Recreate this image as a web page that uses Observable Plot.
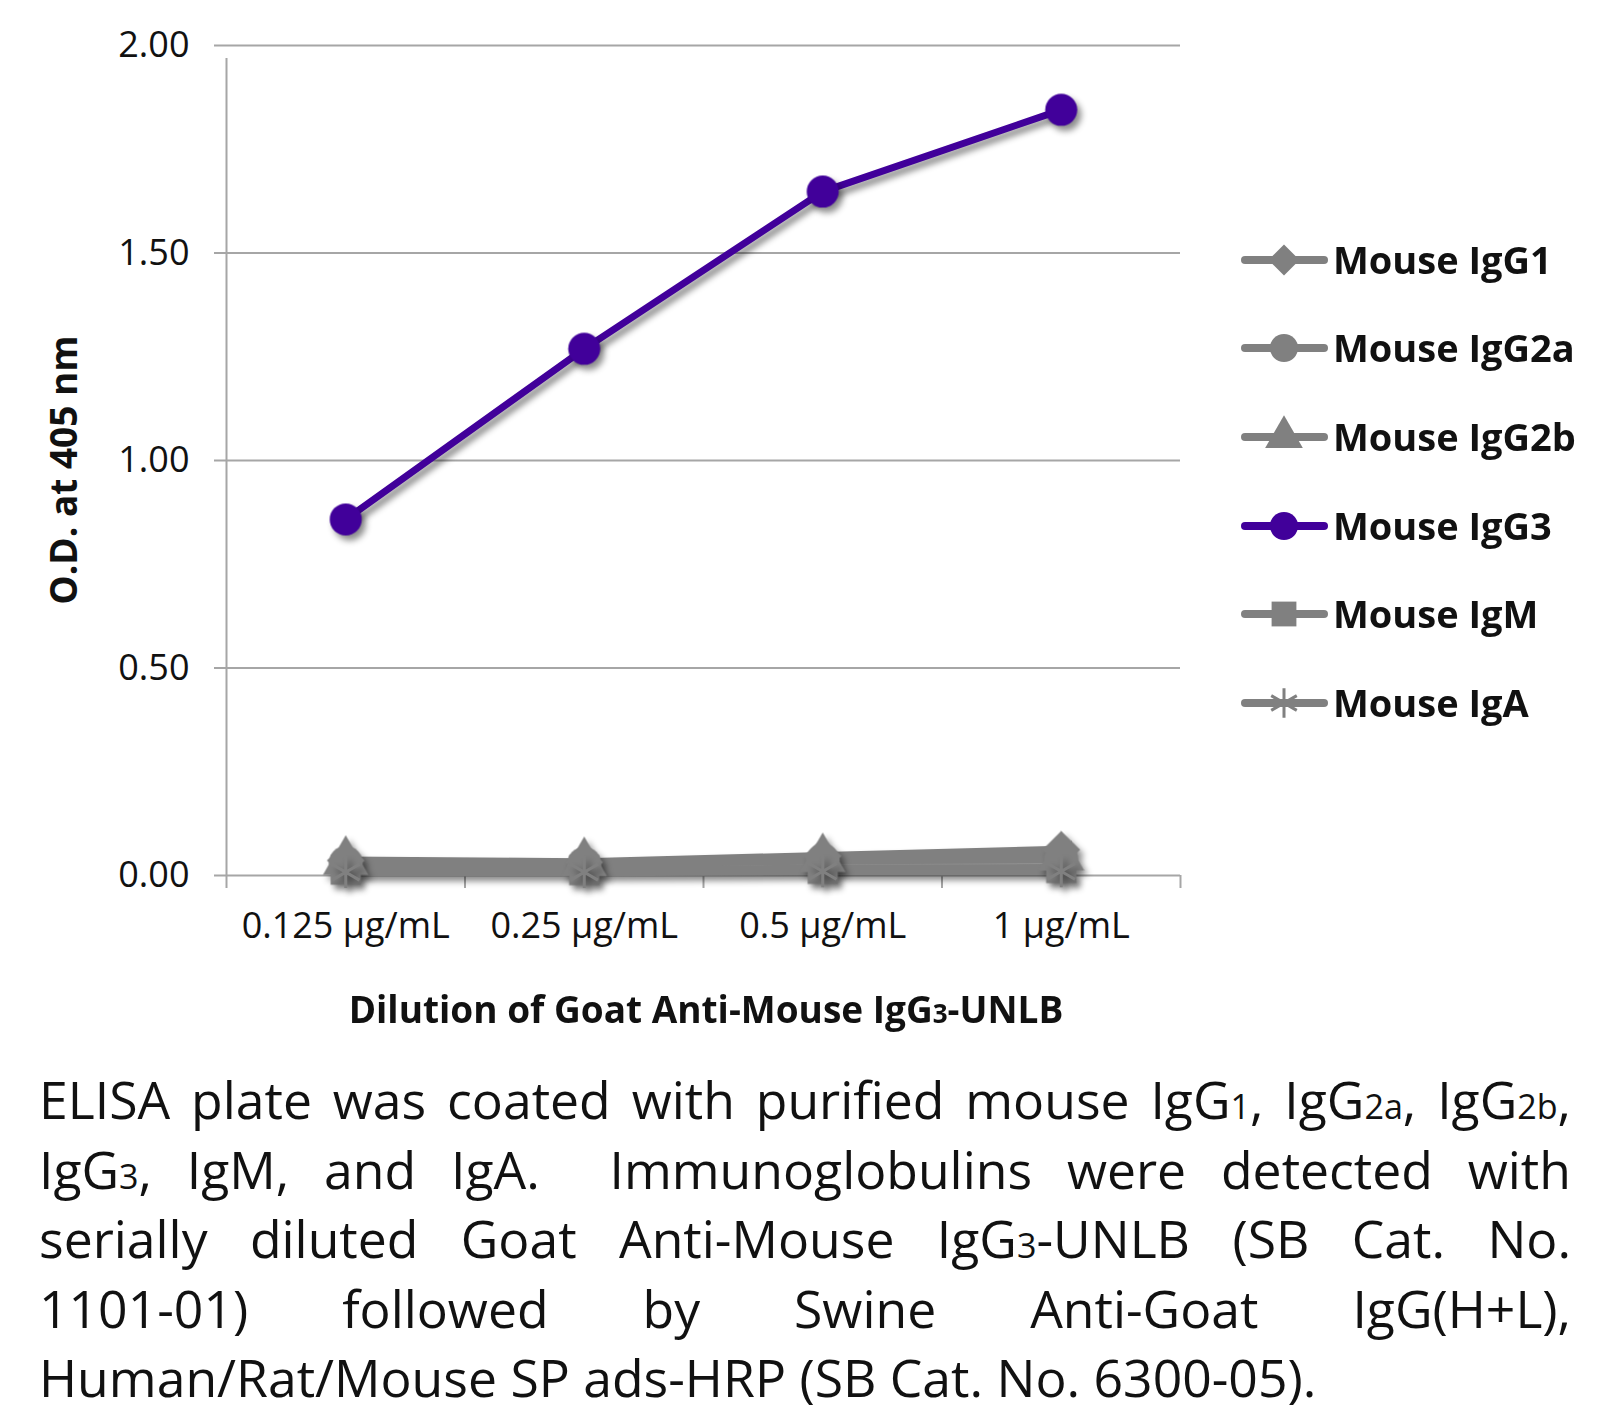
<!DOCTYPE html>
<html>
<head>
<meta charset="utf-8">
<script src="https://cdn.jsdelivr.net/npm/d3@7"></script>
<script src="https://cdn.jsdelivr.net/npm/@observablehq/plot@0.6"></script>
<style>
  html, body { margin: 0; padding: 0; background: #fff; }
  #caption { font-family: "Open Sans", sans-serif; font-size: 51.7px; line-height: 69.5px; color: #111;
             width: 1532px; margin: 20px 0 0 39px; }
  #caption .j { text-align: justify; text-align-last: justify; white-space: nowrap; }
  #caption .l { text-align: left; white-space: nowrap; }
  #caption .s { font-size: 0.66em; line-height: 1; }
</style>
</head>
<body>
<div id="chart"></div>
<div id="caption">
  <div class="j">ELISA plate was coated with purified mouse IgG<span class="s">1</span>, IgG<span class="s">2a</span>, IgG<span class="s">2b</span>,</div>
  <div class="j">IgG<span class="s">3</span>, IgM, and IgA.&nbsp; Immunoglobulins were detected with</div>
  <div class="j">serially diluted Goat Anti-Mouse IgG<span class="s">3</span>-UNLB (SB Cat. No.</div>
  <div class="j">1101-01) followed by Swine Anti-Goat IgG(H+L),</div>
  <div class="l">Human/Rat/Mouse SP ads-HRP (SB Cat. No. 6300-05).</div>
</div>
<script>
// ---- data ----
const categories = ["0.125 µg/mL", "0.25 µg/mL", "0.5 µg/mL", "1 µg/mL"];
const seriesNames = ["Mouse IgG1", "Mouse IgG2a", "Mouse IgG2b", "Mouse IgG3", "Mouse IgM", "Mouse IgA"];
const igg1  = [0.036, 0.032, 0.047, 0.062];
const igg2a = [0.030, 0.028, 0.036, 0.040];
const igg2b = [0.033, 0.030, 0.040, 0.044];
const igg3  = [0.858, 1.269, 1.648, 1.845];
const igm   = [0.014, 0.013, 0.016, 0.018];
const iga   = [0.008, 0.008, 0.010, 0.010];
const yTicks = [0, 0.5, 1.0, 1.5, 2.0];
const seriesColors = ["#808080", "#808080", "#808080", "#41009a", "#808080", "#808080"];
const seriesSymbols = ["diamond2", "circle", "triangle", "circle", "square", "asterisk"];

const valuesBySeries = [igg1, igg2a, igg2b, igg3, igm, iga];
const rows = [];
seriesNames.forEach((s, si) => {
  valuesBySeries[si].forEach((v, ci) => rows.push({series: s, category: categories[ci], x: ci + 0.5, value: v}));
});
const grayRows = rows.filter(d => d.series !== "Mouse IgG3");
const g3Rows = rows.filter(d => d.series === "Mouse IgG3");
const boundaries = d3.range(categories.length + 1);
const centers = categories.map((c, i) => i + 0.5);

const gridColor = "#a6a6a6";
const chart = Plot.plot({
  width: 1621,
  height: 1045,
  marginTop: 45,
  marginBottom: 170,
  marginLeft: 226,
  marginRight: 441,
  style: {fontFamily: "'Open Sans', sans-serif", fontSize: "36px", color: "#111", background: "white", overflow: "visible"},
  x: {domain: [0, categories.length]},
  y: {domain: [0, 2]},
  color: {domain: seriesNames, range: seriesColors},
  symbol: {domain: seriesNames, range: seriesSymbols},
  marks: [
    Plot.ruleY(yTicks, {stroke: gridColor, strokeWidth: 2, insetLeft: -12}),
    Plot.ruleX([0], {y1: 0, y2: 2, stroke: gridColor, strokeWidth: 2, insetBottom: -13}),
    Plot.axisX(boundaries, {tickSize: 13, tickFormat: () => "", stroke: gridColor, strokeWidth: 2, label: null}),
    Plot.axisX(centers, {tickSize: 0, tickPadding: 37, tickFormat: d => categories[Math.floor(d)], fontSize: 36, fill: "#111", label: null}),
    Plot.axisY(yTicks, {tickSize: 0, tickPadding: 37, tickFormat: d3.format(".2f"), fontSize: 36, fill: "#111", label: null}),
    Plot.line(grayRows, {x: "x", y: "value", z: "series", stroke: "series", strokeWidth: 8, strokeLinejoin: "round"}),
    Plot.dot(grayRows.filter(d => d.series !== "Mouse IgA"), {x: "x", y: "value", symbol: "series", fill: "series", r: 17}),
    Plot.dot(grayRows.filter(d => d.series === "Mouse IgA"), {x: "x", y: "value", symbol: "series", stroke: "series", strokeWidth: 3, r: 15}),
    Plot.line(g3Rows, {x: "x", y: "value", stroke: "series", strokeWidth: 7, strokeLinejoin: "round"}),
    Plot.dot(g3Rows, {x: "x", y: "value", symbol: "series", fill: "series", r: 16})
  ]
});
document.getElementById("chart").appendChild(chart);

// drop shadows on series
chart.querySelectorAll('g[aria-label="line"], g[aria-label="dot"]').forEach(g => {
  g.style.filter = "drop-shadow(4px 5px 3px rgba(0,0,0,0.45))";
});

const svg = d3.select(chart);
// axis titles
svg.append("text")
  .attr("transform", "translate(77,470) rotate(-90)")
  .attr("text-anchor", "middle")
  .attr("font-family", "'Open Sans', sans-serif")
  .attr("font-weight", "bold").attr("font-size", 37).attr("fill", "#111")
  .text("O.D. at 405 nm");
const xt = svg.append("text")
  .attr("x", 706).attr("y", 1023)
  .attr("text-anchor", "middle")
  .attr("font-family", "'Open Sans', sans-serif")
  .attr("font-weight", "bold").attr("font-size", 37).attr("fill", "#111");
xt.append("tspan").text("Dilution of Goat Anti-Mouse IgG");
xt.append("tspan").attr("font-size", 26).text("3");
xt.append("tspan").text("-UNLB");

// legend
const legendY = [260, 348, 437, 526, 614, 703];
const symMap = {diamond2: d3.symbolDiamond2, circle: d3.symbolCircle, triangle: d3.symbolTriangle, square: d3.symbolSquare, asterisk: d3.symbolAsterisk};
const lg = svg.append("g").attr("aria-label", "legend");
seriesNames.forEach((s, i) => {
  const y = legendY[i];
  const col = seriesColors[i];
  lg.append("line").attr("x1", 1245).attr("x2", 1324).attr("y1", y).attr("y2", y)
    .attr("stroke", col).attr("stroke-width", 8).attr("stroke-linecap", "round");
  const sym = seriesSymbols[i];
  const r = 14;
  const p = lg.append("path").attr("transform", `translate(1284,${y})`)
    .attr("d", d3.symbol(symMap[sym], Math.PI * r * r)());
  if (sym === "asterisk") p.attr("fill", "none").attr("stroke", col).attr("stroke-width", 3);
  else p.attr("fill", col);
  lg.append("text").attr("x", 1333).attr("y", y).attr("dy", "0.38em")
    .attr("text-anchor", "start")
    .attr("font-family", "'Open Sans', sans-serif").attr("font-weight", "bold")
    .attr("font-size", 38).attr("fill", "#111").text(s);
});
</script>
</body>
</html>
